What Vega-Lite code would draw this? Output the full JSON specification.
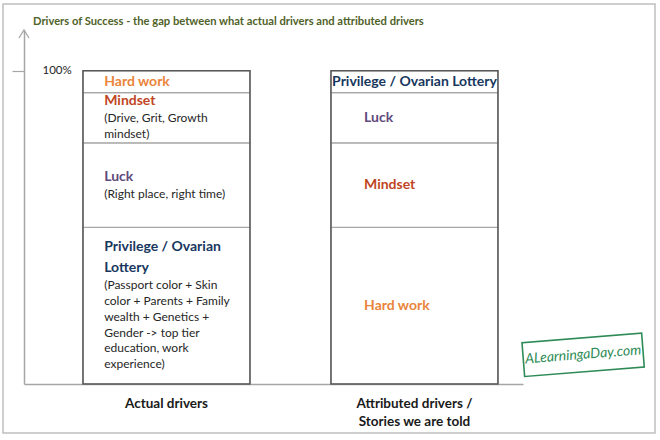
{
  "$schema": "https://vega.github.io/schema/vega-lite/v6.json",
  "width": 652,
  "height": 429,
  "autosize": {"type": "none"},
  "padding": {"left": 3, "top": 4, "right": 5, "bottom": 7},
  "background": "white",
  "title": {
    "text": "Drivers of Success - the gap between what actual drivers and attributed drivers",
    "anchor": "start",
    "frame": "group",
    "offset": -23,
    "dx": 30,
    "font": "Lato",
    "fontSize": 11.2,
    "fontWeight": "bold",
    "color": "#4F6228"
  },
  "config": {
    "view": {"stroke": "#BFBFBF", "strokeWidth": 1.5},
    "text": {"font": "Lato"}
  },
  "data": {
    "values": [
      {"bar": "Actual drivers", "driver": "Privilege / Ovarian Lottery", "rank": 1, "value": 50, "title": ["Privilege / Ovarian", "Lottery"], "note": ["(Passport color + Skin", "color + Parents + Family", "wealth + Genetics +", "Gender -> top tier", "education, work", "experience)"]},
      {"bar": "Actual drivers", "driver": "Luck", "rank": 2, "value": 27, "title": ["Luck"], "note": ["(Right place, right time)"]},
      {"bar": "Actual drivers", "driver": "Mindset", "rank": 3, "value": 16, "title": ["Mindset"], "note": ["(Drive, Grit, Growth", "mindset)"]},
      {"bar": "Actual drivers", "driver": "Hard work", "rank": 4, "value": 7, "title": ["Hard work"], "note": []},
      {"bar": "Attributed drivers / Stories we are told", "driver": "Hard work", "rank": 1, "value": 50, "title": ["Hard work"], "note": []},
      {"bar": "Attributed drivers / Stories we are told", "driver": "Mindset", "rank": 2, "value": 27, "title": ["Mindset"], "note": []},
      {"bar": "Attributed drivers / Stories we are told", "driver": "Luck", "rank": 3, "value": 16, "title": ["Luck"], "note": []},
      {"bar": "Attributed drivers / Stories we are told", "driver": "Privilege / Ovarian Lottery", "rank": 4, "value": 7, "title": ["Privilege / Ovarian Lottery"], "note": []}
    ]
  },
  "transform": [
    {"stack": "value", "groupby": ["bar"], "sort": [{"field": "rank"}], "as": ["y0", "y1"]},
    {"calculate": "(datum.y0 + datum.y1) / 2", "as": "mid"},
    {"calculate": "(length(datum.title) - 1) * 21 + (length(datum.note) > 0 ? 17 + (length(datum.note) - 1) * 15.7 : 0)", "as": "span_px"},
    {"calculate": "datum.mid + datum.span_px / 2 / 3.1327", "as": "title_y"},
    {"calculate": "datum.title_y - ((length(datum.title) - 1) * 21 + 17) / 3.1327", "as": "note_y"}
  ],
  "layer": [
    {
      "mark": {"type": "bar", "fill": "white", "stroke": "#A6A6A6", "strokeWidth": 1.2},
      "encoding": {
        "x": {
          "field": "bar",
          "type": "nominal",
          "scale": {
            "domain": ["Actual drivers", "Attributed drivers / Stories we are told"],
            "range": [21, 520],
            "paddingInner": 0.3266,
            "paddingOuter": 0.1694,
            "align": 0.702
          },
          "axis": {
            "orient": "bottom",
            "offset": -49,
            "title": null,
            "domainColor": "#A6A6A6",
            "domainWidth": 1.5,
            "ticks": false,
            "labelAngle": 0,
            "labelFont": "Lato",
            "labelFontSize": 13.5,
            "labelFontWeight": "bold",
            "labelColor": "#1A1A1A",
            "labelPadding": 12,
            "labelLineHeight": 18,
            "labelExpr": "split(replace(datum.label, '/ ', '/|'), '|')"
          }
        },
        "y": {
          "field": "y0",
          "type": "quantitative",
          "scale": {"domain": [0, 113], "range": [380, 26], "nice": false},
          "axis": {
            "title": null,
            "values": [100],
            "labelExpr": "datum.value + '%'",
            "offset": -21,
            "grid": false,
            "domainColor": "#A6A6A6",
            "domainWidth": 1.5,
            "tickColor": "#A6A6A6",
            "tickSize": 12,
            "tickWidth": 1.2,
            "labelAlign": "left",
            "labelBaseline": "middle",
            "labelPadding": -30,
            "labelFont": "Lato",
            "labelFontSize": 11.5,
            "labelColor": "#262626"
          }
        },
        "y2": {"field": "y1"}
      }
    },
    {
      "mark": {"type": "bar", "fill": "transparent", "stroke": "#595959", "strokeWidth": 1.5},
      "encoding": {
        "x": {"field": "bar", "type": "nominal"},
        "y": {"aggregate": "min", "field": "y0", "type": "quantitative"},
        "y2": {"aggregate": "max", "field": "y1"}
      }
    },
    {
      "transform": [{"filter": "datum.bar == 'Actual drivers'"}],
      "mark": {"type": "text", "align": "left", "baseline": "middle", "font": "Lato", "fontSize": 14, "fontWeight": "bold", "lineHeight": 21},
      "encoding": {
        "x": {"field": "bar", "type": "nominal", "bandPosition": 0.127},
        "y": {"field": "title_y", "type": "quantitative"},
        "color": {
          "field": "driver",
          "type": "nominal",
          "scale": {
            "domain": ["Hard work", "Mindset", "Luck", "Privilege / Ovarian Lottery"],
            "range": ["#E9843A", "#C0461F", "#604A7B", "#17375E"]
          },
          "legend": null
        },
        "text": {"field": "title", "type": "nominal"}
      }
    },
    {
      "transform": [{"filter": "datum.bar == 'Actual drivers'"}],
      "mark": {"type": "text", "align": "left", "baseline": "middle", "font": "Lato", "fontSize": 12, "lineHeight": 15.7, "color": "#262626"},
      "encoding": {
        "x": {"field": "bar", "type": "nominal", "bandPosition": 0.127},
        "y": {"field": "note_y", "type": "quantitative"},
        "text": {"field": "note", "type": "nominal"}
      }
    },
    {
      "transform": [{"filter": "datum.bar != 'Actual drivers' && datum.driver != 'Privilege / Ovarian Lottery'"}],
      "mark": {"type": "text", "align": "left", "baseline": "middle", "font": "Lato", "fontSize": 14, "fontWeight": "bold"},
      "encoding": {
        "x": {"field": "bar", "type": "nominal", "bandPosition": 0.198},
        "y": {"field": "title_y", "type": "quantitative"},
        "color": {"field": "driver", "type": "nominal", "legend": null},
        "text": {"field": "title", "type": "nominal"}
      }
    },
    {
      "transform": [{"filter": "datum.bar != 'Actual drivers' && datum.driver == 'Privilege / Ovarian Lottery'"}],
      "mark": {"type": "text", "align": "center", "baseline": "middle", "font": "Lato", "fontSize": 14, "fontWeight": "bold"},
      "encoding": {
        "x": {"field": "bar", "type": "nominal", "bandPosition": 0.5},
        "y": {"field": "title_y", "type": "quantitative"},
        "color": {"field": "driver", "type": "nominal", "legend": null},
        "text": {"field": "title", "type": "nominal"}
      }
    },
    {
      "data": {"values": [{"marker": "axis arrow"}]},
      "mark": {"type": "point", "shape": "M-1,1.6L0,0L1,1.6", "size": 100, "filled": false, "stroke": "#A6A6A6", "strokeWidth": 1.3, "opacity": 1},
      "encoding": {
        "x": {"datum": "Actual drivers", "type": "nominal", "bandPosition": -0.3533},
        "y": {"datum": 113, "type": "quantitative"}
      }
    },
    {
      "data": {"values": [{"site": "ALearningaDay.com"}]},
      "mark": {"type": "point", "shape": "M-1,-0.283L1,-0.283L1,0.283L-1,0.283Z", "size": 14400, "filled": false, "stroke": "#2E8B57", "strokeWidth": 1.6, "angle": -4.5, "opacity": 1},
      "encoding": {
        "x": {"datum": "Attributed drivers / Stories we are told", "type": "nominal", "bandPosition": 1.51},
        "y": {"datum": 9.3, "type": "quantitative"}
      }
    },
    {
      "data": {"values": [{"site": "ALearningaDay.com"}]},
      "mark": {"type": "text", "align": "center", "baseline": "middle", "font": "Lato", "fontSize": 14, "fontStyle": "italic", "color": "#2E8B57", "angle": -4.5},
      "encoding": {
        "x": {"datum": "Attributed drivers / Stories we are told", "type": "nominal", "bandPosition": 1.51},
        "y": {"datum": 9.3, "type": "quantitative"},
        "text": {"field": "site", "type": "nominal"}
      }
    }
  ]
}
